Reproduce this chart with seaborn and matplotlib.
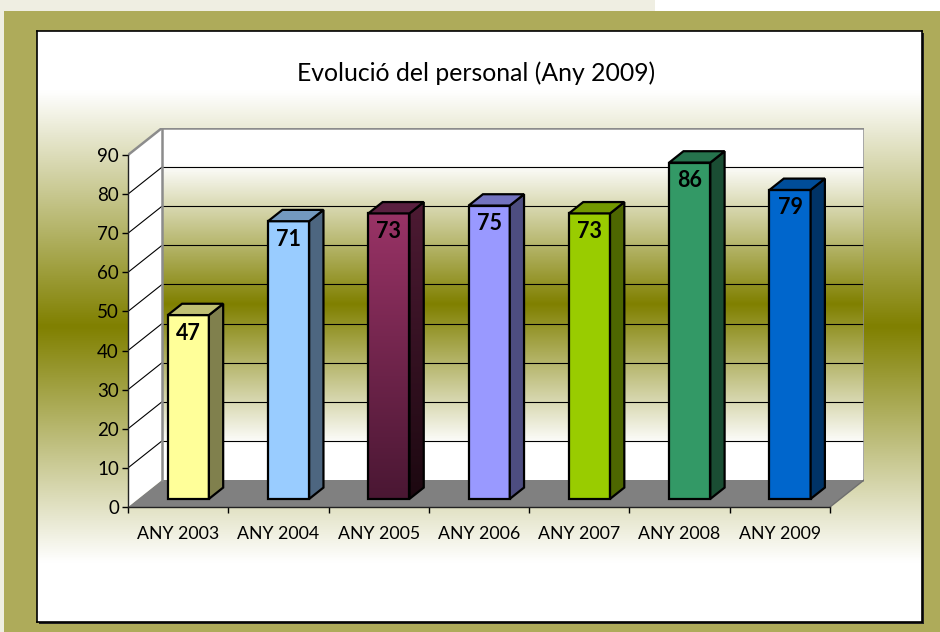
import numpy as np
import pandas as pd
import matplotlib
matplotlib.use('Agg')
import matplotlib.pyplot as plt
from matplotlib.colors import LinearSegmentedColormap, to_rgb
from matplotlib.patches import Polygon, Rectangle
import seaborn as sns

YEARS   = ['ANY 2003', 'ANY 2004', 'ANY 2005', 'ANY 2006', 'ANY 2007', 'ANY 2008', 'ANY 2009']
STAFF   = [47, 71, 73, 75, 73, 86, 79]
FRONT   = ['#ffff99', '#99ccff', '#993366', '#9999ff', '#99cc00', '#339966', '#0066cc']
TITLE   = 'Evolució del personal (Any 2009)'
Y_TICKS = list(range(0, 100, 10))

DX, DY  = 0.339, 6.9     # depth of the 3d box, data units
BAR_W   = 0.41
BAR_D0  = 0.30           # bar starts this far into the box
BAR_D   = 0.42           # and is this deep
OLIVE   = '#808000'
FRAME   = '#aeab5a'

sns.set_theme(style='white')
plt.rcParams['font.family'] = ['Lato', 'DejaVu Sans']

W, H = 940, 632
fig = plt.figure(figsize=(W / 100, H / 100), dpi=100)
fig.patch.set_facecolor(FRAME)
fig.add_artist(Rectangle((0, 1 - 11 / H), 655 / W, 11 / H, transform=fig.transFigure,
                         color='#efeee2', lw=0, zorder=-5))
fig.add_artist(Rectangle((655 / W, 1 - 11 / H), 1, 11 / H, transform=fig.transFigure,
                         color='white', lw=0, zorder=-5))
fig.add_artist(Rectangle((0, 0), 4 / W, 1, transform=fig.transFigure,
                         color='#efeee2', lw=0, zorder=-5))

grad_cmap = LinearSegmentedColormap.from_list(
    'wall', [(0, 'white'), (0.1, 'white'), (0.5, OLIVE), (0.9, 'white'), (1, 'white')])
grad = np.linspace(0, 1, 256).reshape(-1, 1)

# inner white panel with olive band
px0, py0, px1, py1 = 37, 31, 922, 622
fig.add_artist(Rectangle(((px0 + 2) / W, 1 - (py1 + 2) / H), (px1 - px0) / W, (py1 - py0) / H,
                         transform=fig.transFigure, color='#222222', lw=0, zorder=-5))
bg = fig.add_axes([px0 / W, 1 - py1 / H, (px1 - px0) / W, (py1 - py0) / H])
bg.imshow(grad, cmap=grad_cmap, aspect='auto', extent=(0, 1, 0, 1))
bg.set_xticks([])
bg.set_yticks([])
for s in bg.spines.values():
    s.set_color('black')
    s.set_linewidth(1.2)

fig.text(476 / W, 1 - 73 / H, TITLE, ha='center', va='center', fontsize=17.8, color='black')

# chart axes
ax_l, ax_b = 128, 507
unit_x = (830 - 128) / 7
unit_y = (507 - 155) / 90
ax_w = (7 + DX) * unit_x
ax_h = (90 + DY) * unit_y
ax = fig.add_axes([ax_l / W, 1 - ax_b / H, ax_w / W, ax_h / H])
ax.patch.set_alpha(0)

df = pd.DataFrame({'year': YEARS, 'staff': STAFF})
sns.barplot(data=df, x='year', y='staff', hue='year', palette=FRONT, width=BAR_W,
            saturation=1, legend=False, edgecolor='black', linewidth=1.6, ax=ax)
bars = sorted([p for p in ax.patches if isinstance(p, Rectangle)], key=lambda p: p.get_x())

x_lo, x_hi = -0.5, len(YEARS) - 0.5
# floor
ax.add_patch(Polygon([(x_lo, 0), (x_hi, 0), (x_hi + DX, DY), (x_lo + DX, DY)],
                     closed=True, fc='#808080', ec='none', zorder=0))
# side wall
ax.add_patch(Polygon([(x_lo, 0), (x_lo, 90), (x_lo + DX, 90 + DY), (x_lo + DX, DY)],
                     closed=True, fc='white', ec='none', zorder=0))
# back wall gradient
ax.imshow(grad, cmap=grad_cmap, aspect='auto', zorder=0,
          extent=(x_lo + DX, x_hi + DX, DY, 90 + DY))
for t in Y_TICKS[1:-1]:
    ax.plot([x_lo + DX, x_hi + DX], [t + DY, t + DY], color='black', lw=0.8, zorder=0.5)
    ax.plot([x_lo, x_lo + DX], [t, t + DY], color='black', lw=0.8, zorder=0.5)
wall_edge = dict(color='#8c8c8c', lw=1.8, zorder=0.6, solid_capstyle='projecting')
ax.plot([x_lo + DX, x_lo + DX, x_hi + DX, x_hi + DX], [DY, 90 + DY, 90 + DY, DY], **wall_edge)
ax.plot([x_lo, x_lo + DX], [90, 90 + DY], **wall_edge)
ax.plot([x_hi, x_hi + DX], [0, DY], color='#6e6e6e', lw=1.0, zorder=0.6)


def shade(c, k):
    r, g, b = to_rgb(c)
    return (r * k, g * k, b * k)


for i, (p, v, c) in enumerate(zip(bars, STAFF, FRONT)):
    x0 = i - BAR_W / 2 + BAR_D0 * DX
    y0 = BAR_D0 * DY
    p.set_x(x0)
    p.set_y(y0)
    p.set_zorder(3)
    x1, y1 = x0 + BAR_W, y0 + v
    ddx, ddy = BAR_D * DX, BAR_D * DY
    side = Polygon([(x1, y0), (x1 + ddx, y0 + ddy), (x1 + ddx, y1 + ddy), (x1, y1)],
                   closed=True, fc=shade(c, 0.5), ec='black', lw=1.6, zorder=3)
    top = Polygon([(x0, y1), (x1, y1), (x1 + ddx, y1 + ddy), (x0 + ddx, y1 + ddy)],
                  closed=True, fc=shade(c, 0.75), ec='black', lw=1.6, zorder=3)
    ax.add_patch(side)
    ax.add_patch(top)
    if i == 2:
        # this bar is filled with a vertical gradient
        top.set_facecolor('#5a2040')
        face_cmap = LinearSegmentedColormap.from_list('f', ['#4a1733', c])
        side_cmap = LinearSegmentedColormap.from_list('s', ['#1c0810', '#4d1a33'])
        p.set_facecolor('none')
        side.set_facecolor('none')
        ax.imshow(grad, cmap=face_cmap, aspect='auto', zorder=2.9,
                  extent=(x0, x1, y0, y1), origin='lower')
        im = ax.imshow(grad, cmap=side_cmap, aspect='auto', zorder=2.9,
                       extent=(x1, x1 + ddx, y0, y1 + ddy), origin='lower')
        im.set_clip_path(side)
    ax.annotate(str(v), xy=(x0 + BAR_W / 2, y1), xytext=(0, -18 * 0.72),
                textcoords='offset points', ha='center', va='center',
                fontsize=15.5, fontweight='bold', color='black', zorder=5)

ax.set_xlim(x_lo, x_hi + DX)
ax.set_ylim(0, 90 + DY)
ax.set_xlabel('')
ax.set_ylabel('')
ax.set_xticks(range(len(YEARS)))
ax.set_xticklabels(YEARS)
ax.set_xticks(np.arange(x_lo, x_hi + 0.01, 1.0), minor=True)
ax.set_yticks(Y_TICKS)
ax.tick_params(axis='x', which='major', length=0, pad=14, labelsize=12.8, labelcolor='black')
ax.tick_params(axis='x', which='minor', length=4.5, width=1, color='black', direction='out',
               bottom=True)
ax.tick_params(axis='y', length=4.5, width=1, color='black', direction='out', left=True,
               pad=2, labelsize=13.5, labelcolor='black')
for s in ['top', 'right']:
    ax.spines[s].set_visible(False)
ax.spines['left'].set_bounds(0, 90)
ax.spines['bottom'].set_bounds(x_lo, x_hi)
for s in ['left', 'bottom']:
    ax.spines[s].set_color('#222222')
    ax.spines[s].set_linewidth(1.0)
    ax.spines[s].set_zorder(4)

fig.savefig('out.png', dpi=100)
